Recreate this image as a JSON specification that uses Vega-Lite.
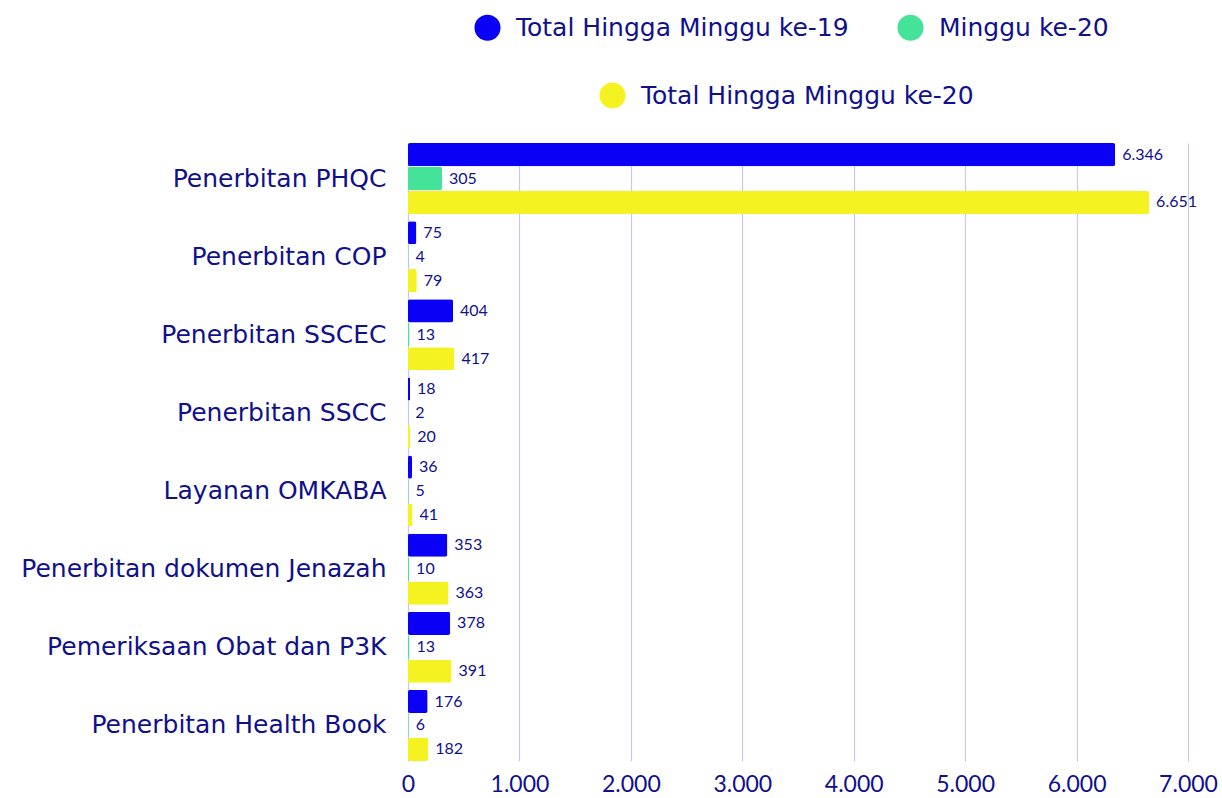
{
  "$schema": "https://vega.github.io/schema/vega-lite/v6.json",
  "width": 780,
  "height": 618,
  "autosize": {"type": "none"},
  "padding": {"left": 408, "top": 143, "right": 34, "bottom": 37},
  "background": "white",
  "config": {
    "locale": {"number": {"decimal": ",", "thousands": ".", "grouping": [3], "currency": ["Rp", ""]}},
    "font": "Lato",
    "view": {"stroke": null}
  },
  "data": {
    "values": [
      {"kategori": "Penerbitan PHQC", "seri": "Total Hingga Minggu ke-19", "nilai": 6346},
      {"kategori": "Penerbitan PHQC", "seri": "Minggu ke-20", "nilai": 305},
      {"kategori": "Penerbitan PHQC", "seri": "Total Hingga Minggu ke-20", "nilai": 6651},
      {"kategori": "Penerbitan COP", "seri": "Total Hingga Minggu ke-19", "nilai": 75},
      {"kategori": "Penerbitan COP", "seri": "Minggu ke-20", "nilai": 4},
      {"kategori": "Penerbitan COP", "seri": "Total Hingga Minggu ke-20", "nilai": 79},
      {"kategori": "Penerbitan SSCEC", "seri": "Total Hingga Minggu ke-19", "nilai": 404},
      {"kategori": "Penerbitan SSCEC", "seri": "Minggu ke-20", "nilai": 13},
      {"kategori": "Penerbitan SSCEC", "seri": "Total Hingga Minggu ke-20", "nilai": 417},
      {"kategori": "Penerbitan SSCC", "seri": "Total Hingga Minggu ke-19", "nilai": 18},
      {"kategori": "Penerbitan SSCC", "seri": "Minggu ke-20", "nilai": 2},
      {"kategori": "Penerbitan SSCC", "seri": "Total Hingga Minggu ke-20", "nilai": 20},
      {"kategori": "Layanan OMKABA", "seri": "Total Hingga Minggu ke-19", "nilai": 36},
      {"kategori": "Layanan OMKABA", "seri": "Minggu ke-20", "nilai": 5},
      {"kategori": "Layanan OMKABA", "seri": "Total Hingga Minggu ke-20", "nilai": 41},
      {"kategori": "Penerbitan dokumen Jenazah", "seri": "Total Hingga Minggu ke-19", "nilai": 353},
      {"kategori": "Penerbitan dokumen Jenazah", "seri": "Minggu ke-20", "nilai": 10},
      {"kategori": "Penerbitan dokumen Jenazah", "seri": "Total Hingga Minggu ke-20", "nilai": 363},
      {"kategori": "Pemeriksaan Obat dan P3K", "seri": "Total Hingga Minggu ke-19", "nilai": 378},
      {"kategori": "Pemeriksaan Obat dan P3K", "seri": "Minggu ke-20", "nilai": 13},
      {"kategori": "Pemeriksaan Obat dan P3K", "seri": "Total Hingga Minggu ke-20", "nilai": 391},
      {"kategori": "Penerbitan Health Book", "seri": "Total Hingga Minggu ke-19", "nilai": 176},
      {"kategori": "Penerbitan Health Book", "seri": "Minggu ke-20", "nilai": 6},
      {"kategori": "Penerbitan Health Book", "seri": "Total Hingga Minggu ke-20", "nilai": 182}
    ]
  },
  "encoding": {
    "y": {
      "field": "kategori",
      "type": "nominal",
      "sort": ["Penerbitan PHQC", "Penerbitan COP", "Penerbitan SSCEC", "Penerbitan SSCC", "Layanan OMKABA", "Penerbitan dokumen Jenazah", "Pemeriksaan Obat dan P3K", "Penerbitan Health Book"],
      "scale": {"paddingInner": 0.09, "paddingOuter": 0},
      "axis": {
        "title": null,
        "domain": false,
        "ticks": false,
        "grid": false,
        "labelFont": "DejaVu Sans",
        "labelFontSize": 25,
        "labelColor": "#10108c",
        "labelPadding": 22,
        "labelLimit": 500
      }
    },
    "yOffset": {
      "field": "seri",
      "type": "nominal",
      "sort": ["Total Hingga Minggu ke-19", "Minggu ke-20", "Total Hingga Minggu ke-20"],
      "scale": {"domain": ["Total Hingga Minggu ke-19", "Minggu ke-20", "Total Hingga Minggu ke-20"], "paddingInner": 0.03, "paddingOuter": 0}
    },
    "x": {
      "field": "nilai",
      "type": "quantitative",
      "scale": {"domain": [0, 7000], "nice": false},
      "axis": {
        "title": null,
        "values": [0, 1000, 2000, 3000, 4000, 5000, 6000, 7000],
        "format": ",d",
        "domain": false,
        "ticks": false,
        "grid": true,
        "gridColor": "#c9c9e6",
        "gridWidth": 1.2,
        "labelFontSize": 23,
        "labelColor": "#10108c",
        "labelPadding": 12,
        "labelFlush": false
      }
    }
  },
  "layer": [
    {
      "transform": [{"filter": "datum.seri !== 'Total Hingga Minggu ke-20'"}],
      "mark": {"type": "bar", "cornerRadius": 2},
      "encoding": {
        "color": {
          "field": "seri",
          "type": "nominal",
          "sort": ["Total Hingga Minggu ke-19", "Minggu ke-20"],
          "scale": {"domain": ["Total Hingga Minggu ke-19", "Minggu ke-20"], "range": ["#0a00f5", "#45e39a"]},
          "legend": {
            "title": null,
            "orient": "none",
            "direction": "horizontal",
            "legendX": 66,
            "legendY": -129,
            "symbolType": "circle",
            "symbolSize": 680,
            "symbolStrokeWidth": 0,
            "labelFont": "DejaVu Sans",
            "labelFontSize": 25,
            "labelColor": "#10108c",
            "labelOffset": 15,
            "columnPadding": 48,
            "labelLimit": 500
          }
        }
      }
    },
    {
      "transform": [{"filter": "datum.seri === 'Total Hingga Minggu ke-20'"}],
      "mark": {"type": "bar", "cornerRadius": 2},
      "encoding": {
        "color": {
          "field": "seri",
          "type": "nominal",
          "scale": {"domain": ["Total Hingga Minggu ke-20"], "range": ["#f5f222"]},
          "legend": {
            "title": null,
            "orient": "none",
            "direction": "horizontal",
            "legendX": 191,
            "legendY": -61,
            "symbolType": "circle",
            "symbolSize": 680,
            "symbolStrokeWidth": 0,
            "labelFont": "DejaVu Sans",
            "labelFontSize": 25,
            "labelColor": "#10108c",
            "labelOffset": 15,
            "labelLimit": 500
          }
        }
      }
    },
    {
      "mark": {"type": "text", "align": "left", "baseline": "middle", "dx": 7, "fontSize": 16, "color": "#10108c"},
      "encoding": {
        "text": {"field": "nilai", "type": "quantitative", "format": ",d"}
      }
    }
  ],
  "resolve": {"scale": {"color": "independent"}}
}
